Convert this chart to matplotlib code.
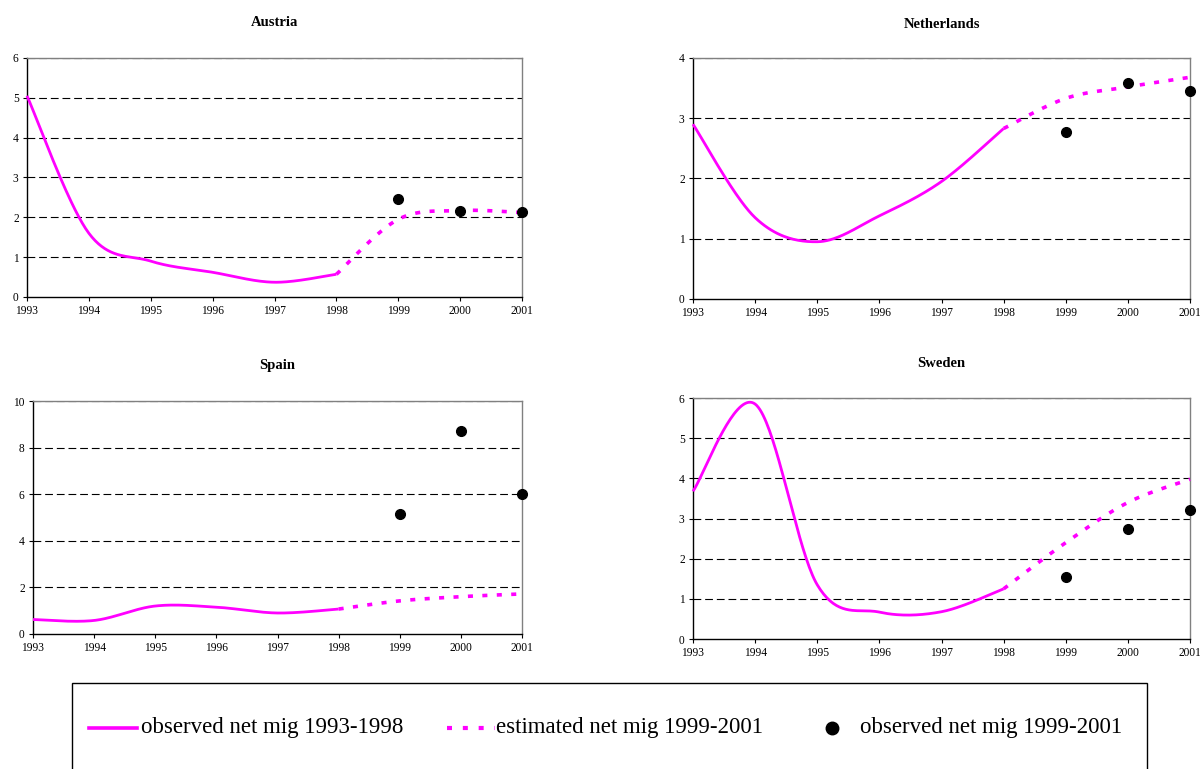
import numpy as np
import matplotlib
matplotlib.use("Agg")
import matplotlib.pyplot as plt
from matplotlib.lines import Line2D
from matplotlib.patches import Rectangle

plt.rcParams['font.family'] = ['Liberation Serif', 'DejaVu Serif']

years_obs = [1993, 1994, 1995, 1996, 1997, 1998]
years_est = [1998, 1999, 2000, 2001]
years_pts = [1999, 2000, 2001]

countries = ["Austria", "Netherlands", "Spain", "Sweden"]

austria_obs = [5.05, 1.6, 0.9, 0.62, 0.37, 0.57]
austria_est = [0.57, 1.95, 2.17, 2.12]
austria_pts = [2.45, 2.15, 2.13]

netherlands_obs = [2.9, 1.35, 0.95, 1.38, 1.95, 2.83]
netherlands_est = [2.83, 3.33, 3.52, 3.68]
netherlands_pts = [2.77, 3.58, 3.45]

spain_obs = [0.62, 0.58, 1.2, 1.15, 0.9, 1.07]
spain_est = [1.07, 1.42, 1.6, 1.72]
spain_pts = [5.15, 8.73, 6.02]

sweden_obs = [3.68, 5.85, 1.35, 0.67, 0.68, 1.25]
sweden_est = [1.25, 2.4, 3.4, 3.98]
sweden_pts = [1.55, 2.75, 3.22]

obs_series = [austria_obs, netherlands_obs, spain_obs, sweden_obs]
est_series = [austria_est, netherlands_est, spain_est, sweden_est]
pts_series = [austria_pts, netherlands_pts, spain_pts, sweden_pts]
ymax_list = [6, 4, 10, 6]
ystep_list = [1, 1, 2, 1]

legend_labels = ["observed net mig 1993-1998", "estimated net mig 1999-2001",
                 "observed net mig 1999-2001"]


def smooth(xs, ys, n=40):
    """Excel-like smoothed line (Catmull-Rom style Bezier)."""
    P = np.column_stack([xs, ys]).astype(float)
    m = len(P)
    out = []
    for i in range(m - 1):
        p0 = P[i - 1] if i > 0 else P[i]
        p1 = P[i]
        p2 = P[i + 1]
        p3 = P[i + 2] if i + 2 < m else P[i + 1]
        c1 = p1 + (p2 - p0) / 6.0
        c2 = p2 - (p3 - p1) / 6.0
        t = np.linspace(0, 1, n)[:, None]
        seg = ((1 - t) ** 3) * p1 + 3 * ((1 - t) ** 2) * t * c1 + 3 * (1 - t) * t ** 2 * c2 + t ** 3 * p2
        out.append(seg if i == 0 else seg[1:])
    out = np.vstack(out)
    return out[:, 0], out[:, 1]


W, H = 1200, 769
fig = plt.figure(figsize=(12, 7.69), dpi=100)

positions = [
    [0.0225, 0.6138, 0.4125, 0.3108],
    [0.5775, 0.6112, 0.4142, 0.3134],
    [0.0275, 0.1756, 0.4075, 0.3029],
    [0.5775, 0.1690, 0.4142, 0.3134],
]
title_y = [23, 25, 366, 364]

MAG = '#FF00FF'
for k in range(4):
    ax = fig.add_axes(positions[k])
    ymax = ymax_list[k]
    step = ystep_list[k]
    ax.set_xlim(1993, 2001)
    ax.set_ylim(0, ymax)
    for g in np.arange(step, ymax + 0.001, step):
        ax.axhline(g, color='black', lw=0.8, ls=(0, (7, 3.5)), zorder=1)
    sx, sy = smooth(years_obs, obs_series[k])
    ax.plot(sx, sy, color=MAG, lw=2.0, solid_capstyle='butt', zorder=3, clip_on=False)
    ex, ey = smooth(years_est, est_series[k])
    ax.plot(ex, ey, color=MAG, lw=2.6, ls=(0, (1.4, 2.6)), zorder=3, clip_on=False)
    ax.plot(years_pts, pts_series[k], 'o', color='black', ms=7, zorder=4, clip_on=False)
    ax.set_xticks(range(1993, 2002))
    ax.set_yticks(np.arange(0, ymax + 0.001, step))
    ax.set_yticklabels([str(int(v)) for v in np.arange(0, ymax + 0.001, step)])
    ax.tick_params(labelsize=8.3, length=3, width=0.8, direction='out', pad=3)
    for s in ['left', 'bottom']:
        ax.spines[s].set_color('black')
        ax.spines[s].set_linewidth(1.0)
    for s in ['top', 'right']:
        ax.spines[s].set_color('#808080')
        ax.spines[s].set_linewidth(1.0)
    cx = positions[k][0] + positions[k][2] / 2
    fig.text(cx, 1 - title_y[k] / H, countries[k], ha='center', va='center',
             fontsize=10.5, fontweight='bold')

# legend box
fig.add_artist(Rectangle((72 / W, -0.01), (1147 - 72) / W, (H - 683) / H + 0.01,
                         transform=fig.transFigure, fill=False, edgecolor='black', lw=1.0))
ly = 1 - 728 / H
fig.add_artist(Line2D([89 / W, 137 / W], [ly, ly], transform=fig.transFigure,
                      color=MAG, lw=2.6))
fig.add_artist(Line2D([447 / W, 495 / W], [ly, ly], transform=fig.transFigure,
                      color=MAG, lw=3.0, ls=(0, (1.2, 2.6))))
fig.add_artist(Line2D([832 / W], [ly], transform=fig.transFigure,
                      color='black', marker='o', ls='none', ms=9))
for xt, lab in zip([141, 496, 860], legend_labels):
    fig.text(xt / W, ly, lab, ha='left', va='center', fontsize=16.5)

fig.savefig('out.png', dpi=100)
